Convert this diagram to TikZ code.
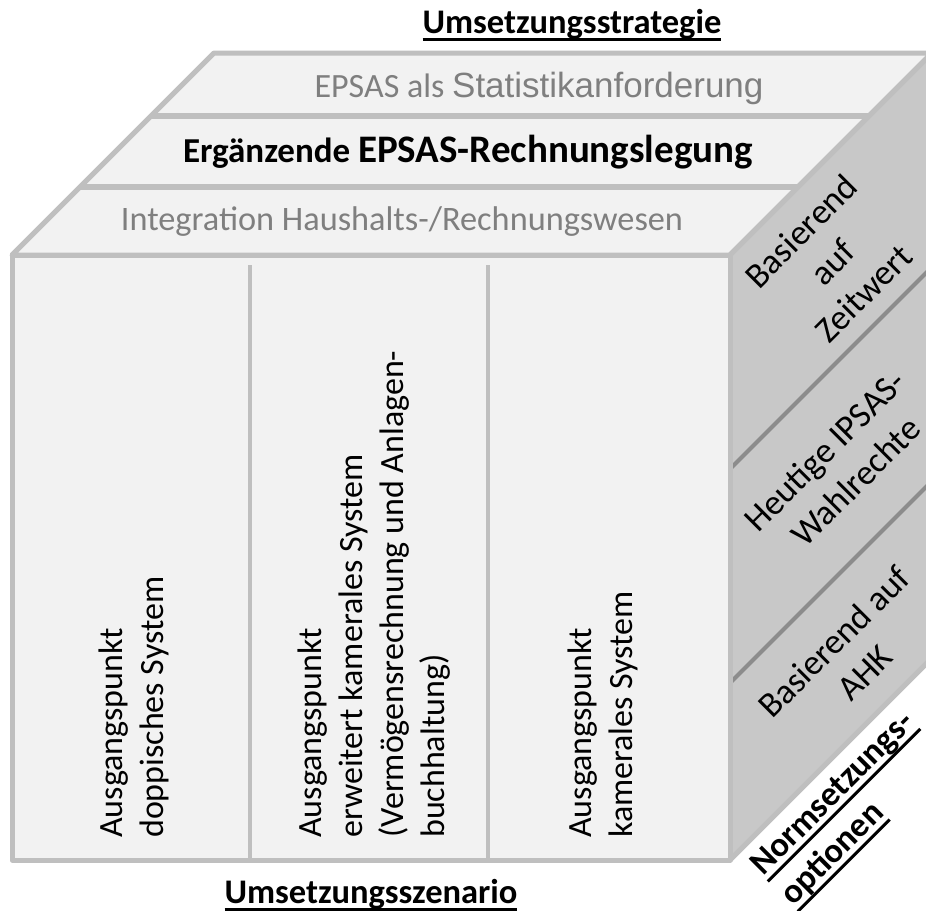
\documentclass[tikz,border=0pt]{standalone}
\usepackage{fontspec}
\setmainfont{Carlito}
\newfontfamily\arialfont{Liberation Sans}
\definecolor{facelight}{HTML}{F2F2F2}
\definecolor{facedark}{HTML}{C8C8C8}
\definecolor{edgegray}{HTML}{BFBFBF}
\definecolor{splitgray}{HTML}{8C8C8C}
\definecolor{textgray}{HTML}{7F7F7F}
\newcommand{\ulined}[1]{\setbox0=\hbox{#1}\rlap{\rule[-8pt]{\wd0}{3pt}}\box0}

\begin{document}
\begin{tikzpicture}[x=1pt, y=-1pt,
    edge/.style={draw=edgegray, line width=5pt, line join=round},
    split/.style={draw=splitgray, line width=4pt},
    stripe/.style={anchor=base, inner sep=0pt, font=\fontsize{34.3}{40}\selectfont},
    colbox/.style={rotate=90, anchor=west, align=left, inner sep=0pt, font=\fontsize{34}{41}\selectfont},
    sidebox/.style={rotate=45, align=center, inner sep=0pt, font=\fontsize{35.5}{44}\selectfont},
    heading/.style={inner sep=0pt, font=\bfseries\fontsize{34.5}{42}\selectfont}]
  \useasboundingbox (0,0) rectangle (926,910);

  % Top face
  \filldraw[fill=facelight, edge] (12,255) -- (214,53) -- (932,53) -- (730,255) -- cycle;
  \draw[edge, line width=6pt] (151,116) -- (869,116);
  \draw[edge, line width=6pt] (80,187) -- (798,187);

  % Right face
  \filldraw[fill=facedark, edge] (730,255) -- (932,53) -- (932,658) -- (730,860) -- cycle;
  \draw[split] (730,469) -- (932,267);
  \draw[split] (730,683) -- (932,481);

  % Front face
  \filldraw[fill=facelight, edge] (12,255) rectangle (730,860);
  \draw[edge, line width=4pt] (250,265) -- (250,860);
  \draw[edge, line width=4pt] (488,265) -- (488,860);

  % Strategies on top
  \node[stripe, text=textgray] (statistik) at (539,97)
    {\fontsize{34}{40}\selectfont EPSAS als {\arialfont\fontsize{35}{40}\selectfont Statistikanforderung}};
  \node[stripe, font=\bfseries] (ergaenzend) at (468,162)
    {\fontsize{35}{40}\selectfont Ergänzende \fontsize{39}{44}\selectfont EPSAS-Rechnungslegung};
  \node[stripe, text=textgray] (integration) at (402,230) {Integration Haushalts-/Rechnungswesen};

  % Scenarios in front
  \node[colbox] (doppisch) at (134,838) {Ausgangspunkt\\doppisches\ System};
  \node[colbox] (erweitert) at (374,838)
    {Ausgangspunkt\\erweitert kamerales\ System\\(Vermögensrechnung\ und Anlagen-\\buchhaltung)};
  \node[colbox] (kameral) at (603,838) {Ausgangspunkt\\kamerales\ System};

  % Options on the side
  \node[sidebox] (zeitwert) at (832,262) {Basierend\\auf\\Zeitwert};
  \node[sidebox] (wahlrechte) at (840,466) {Heutige IPSAS-\\Wahlrechte};
  \node[sidebox] (ahk) at (849,657) {Basierend auf\\AHK};

  % Axis titles
  \node[heading, anchor=base] (strategie) at (572,33) {\ulined{Umsetzungsstrategie}};
  \node[heading, anchor=base] (szenario) at (371,903) {\ulined{Umsetzungsszenario}};
  \node[heading, anchor=base west, rotate=45] (normen) at (763,877) {\ulined{Normsetzungs-}};
  \node[heading, anchor=base west, rotate=45] (optionen) at (793,907) {\ulined{optionen}};
\end{tikzpicture}
\end{document}
